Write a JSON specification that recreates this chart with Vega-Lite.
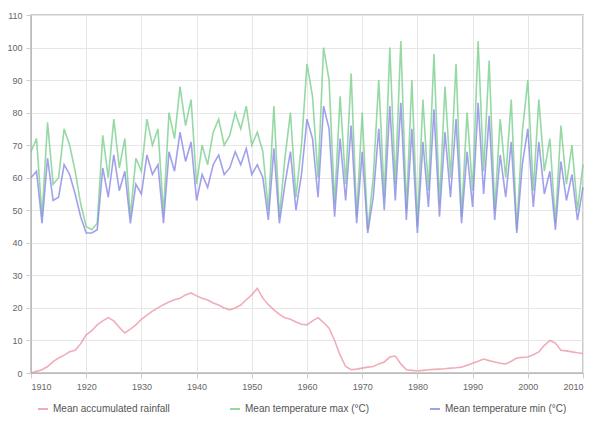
{
  "$schema": "https://vega.github.io/schema/vega-lite/v6.json",
  "autosize": {"type": "none"},
  "padding": {"left": 31, "top": 15, "right": 10, "bottom": 53},
  "width": 552,
  "height": 358,
  "background": "white",
  "config": {
    "view": {"stroke": "#bbbbbb", "strokeWidth": 1.5},
    "axis": {"gridColor": "#e6e6e6", "domainColor": "#bbbbbb", "tickColor": "#cccccc", "labelColor": "#666666", "labelFont": "Liberation Sans", "labelFontSize": 9, "title": null},
    "legend": {"labelFont": "Liberation Sans", "labelFontSize": 10, "labelColor": "#555555"}
  },
  "data": {"values": [
    {"year":1910,"tmax":68,"tmin":60,"acc":0},
    {"year":1911,"tmax":72,"tmin":62,"acc":0.5},
    {"year":1912,"tmax":48,"tmin":46,"acc":1},
    {"year":1913,"tmax":77,"tmin":66,"acc":2},
    {"year":1914,"tmax":58,"tmin":53,"acc":3.5},
    {"year":1915,"tmax":60,"tmin":54,"acc":4.6},
    {"year":1916,"tmax":75,"tmin":64,"acc":5.5},
    {"year":1917,"tmax":70,"tmin":61,"acc":6.5},
    {"year":1918,"tmax":62,"tmin":55,"acc":7},
    {"year":1919,"tmax":52,"tmin":48,"acc":9},
    {"year":1920,"tmax":45,"tmin":43,"acc":11.7},
    {"year":1921,"tmax":44,"tmin":43,"acc":13},
    {"year":1922,"tmax":46,"tmin":44,"acc":14.8},
    {"year":1923,"tmax":73,"tmin":63,"acc":16},
    {"year":1924,"tmax":60,"tmin":54,"acc":17},
    {"year":1925,"tmax":78,"tmin":67,"acc":16},
    {"year":1926,"tmax":63,"tmin":56,"acc":14},
    {"year":1927,"tmax":72,"tmin":62,"acc":12.3},
    {"year":1928,"tmax":48,"tmin":46,"acc":13.5},
    {"year":1929,"tmax":66,"tmin":58,"acc":14.8},
    {"year":1930,"tmax":62,"tmin":55,"acc":16.5},
    {"year":1931,"tmax":78,"tmin":67,"acc":17.8},
    {"year":1932,"tmax":70,"tmin":61,"acc":19},
    {"year":1933,"tmax":75,"tmin":64,"acc":20},
    {"year":1934,"tmax":49,"tmin":46,"acc":21},
    {"year":1935,"tmax":80,"tmin":68,"acc":21.8},
    {"year":1936,"tmax":72,"tmin":62,"acc":22.5},
    {"year":1937,"tmax":88,"tmin":74,"acc":23},
    {"year":1938,"tmax":76,"tmin":65,"acc":24},
    {"year":1939,"tmax":84,"tmin":71,"acc":24.6},
    {"year":1940,"tmax":58,"tmin":53,"acc":23.7},
    {"year":1941,"tmax":70,"tmin":61,"acc":23},
    {"year":1942,"tmax":64,"tmin":57,"acc":22.4},
    {"year":1943,"tmax":74,"tmin":64,"acc":21.5},
    {"year":1944,"tmax":78,"tmin":67,"acc":20.9},
    {"year":1945,"tmax":70,"tmin":61,"acc":20},
    {"year":1946,"tmax":73,"tmin":63,"acc":19.4},
    {"year":1947,"tmax":80,"tmin":68,"acc":20},
    {"year":1948,"tmax":75,"tmin":64,"acc":20.9},
    {"year":1949,"tmax":82,"tmin":69,"acc":22.5},
    {"year":1950,"tmax":70,"tmin":61,"acc":24},
    {"year":1951,"tmax":74,"tmin":64,"acc":26},
    {"year":1952,"tmax":68,"tmin":60,"acc":23},
    {"year":1953,"tmax":50,"tmin":47,"acc":21},
    {"year":1954,"tmax":82,"tmin":69,"acc":19.4},
    {"year":1955,"tmax":48,"tmin":46,"acc":18},
    {"year":1956,"tmax":66,"tmin":58,"acc":17},
    {"year":1957,"tmax":80,"tmin":68,"acc":16.5},
    {"year":1958,"tmax":54,"tmin":50,"acc":15.7},
    {"year":1959,"tmax":70,"tmin":61,"acc":15},
    {"year":1960,"tmax":95,"tmin":78,"acc":14.8},
    {"year":1961,"tmax":85,"tmin":72,"acc":16},
    {"year":1962,"tmax":60,"tmin":54,"acc":17},
    {"year":1963,"tmax":100,"tmin":82,"acc":15.5},
    {"year":1964,"tmax":90,"tmin":75,"acc":13.8},
    {"year":1965,"tmax":52,"tmin":48,"acc":10},
    {"year":1966,"tmax":85,"tmin":72,"acc":5.5},
    {"year":1967,"tmax":58,"tmin":53,"acc":2},
    {"year":1968,"tmax":92,"tmin":76,"acc":1},
    {"year":1969,"tmax":48,"tmin":46,"acc":1.2},
    {"year":1970,"tmax":80,"tmin":68,"acc":1.5},
    {"year":1971,"tmax":44,"tmin":43,"acc":1.8},
    {"year":1972,"tmax":60,"tmin":54,"acc":2},
    {"year":1973,"tmax":90,"tmin":75,"acc":2.8},
    {"year":1974,"tmax":54,"tmin":50,"acc":3.4},
    {"year":1975,"tmax":100,"tmin":82,"acc":4.9},
    {"year":1976,"tmax":58,"tmin":53,"acc":5.2},
    {"year":1977,"tmax":102,"tmin":83,"acc":2.8},
    {"year":1978,"tmax":50,"tmin":47,"acc":1},
    {"year":1979,"tmax":90,"tmin":75,"acc":0.8},
    {"year":1980,"tmax":45,"tmin":43,"acc":0.6},
    {"year":1981,"tmax":84,"tmin":71,"acc":0.8},
    {"year":1982,"tmax":56,"tmin":51,"acc":1},
    {"year":1983,"tmax":98,"tmin":81,"acc":1.1},
    {"year":1984,"tmax":52,"tmin":48,"acc":1.2},
    {"year":1985,"tmax":88,"tmin":74,"acc":1.3},
    {"year":1986,"tmax":60,"tmin":54,"acc":1.5},
    {"year":1987,"tmax":95,"tmin":78,"acc":1.6},
    {"year":1988,"tmax":48,"tmin":46,"acc":1.8},
    {"year":1989,"tmax":80,"tmin":68,"acc":2.4},
    {"year":1990,"tmax":56,"tmin":51,"acc":3},
    {"year":1991,"tmax":102,"tmin":83,"acc":3.6},
    {"year":1992,"tmax":62,"tmin":55,"acc":4.3},
    {"year":1993,"tmax":96,"tmin":79,"acc":3.8},
    {"year":1994,"tmax":50,"tmin":47,"acc":3.4},
    {"year":1995,"tmax":78,"tmin":67,"acc":3},
    {"year":1996,"tmax":60,"tmin":54,"acc":2.8},
    {"year":1997,"tmax":84,"tmin":71,"acc":3.6},
    {"year":1998,"tmax":44,"tmin":43,"acc":4.6},
    {"year":1999,"tmax":74,"tmin":64,"acc":4.8},
    {"year":2000,"tmax":90,"tmin":75,"acc":4.9},
    {"year":2001,"tmax":56,"tmin":51,"acc":5.6},
    {"year":2002,"tmax":84,"tmin":71,"acc":6.5},
    {"year":2003,"tmax":62,"tmin":55,"acc":8.5},
    {"year":2004,"tmax":72,"tmin":62,"acc":10},
    {"year":2005,"tmax":46,"tmin":44,"acc":9.2},
    {"year":2006,"tmax":76,"tmin":65,"acc":7},
    {"year":2007,"tmax":58,"tmin":53,"acc":6.8},
    {"year":2008,"tmax":70,"tmin":61,"acc":6.5},
    {"year":2009,"tmax":50,"tmin":47,"acc":6.2},
    {"year":2010,"tmax":64,"tmin":57,"acc":6}
  ]},
  "transform": [
    {"fold": ["acc", "tmax", "tmin"], "as": ["key", "value"]},
    {"lookup": "key", "from": {"data": {"values": [
      {"key": "acc", "label": "Mean accumulated rainfall"},
      {"key": "tmax", "label": "Mean temperature max (°C)"},
      {"key": "tmin", "label": "Mean temperature min (°C)"}
    ]}, "key": "key", "fields": ["label"]}}
  ],
  "mark": {"type": "line", "strokeWidth": 1.6, "opacity": 0.8},
  "encoding": {
    "x": {"field": "year", "type": "quantitative", "scale": {"domain": [1910, 2010], "nice": false, "zero": false},
      "axis": {"values": [1910,1920,1930,1940,1950,1960,1970,1980,1990,2000,2010], "format": "d", "labelPadding": 4}},
    "y": {"field": "value", "type": "quantitative", "scale": {"domain": [0, 110], "nice": false},
      "axis": {"values": [0,10,20,30,40,50,60,70,80,90,100,110], "labelPadding": 4}},
    "color": {"field": "label", "type": "nominal",
      "scale": {"domain": ["Mean accumulated rainfall", "Mean temperature max (°C)", "Mean temperature min (°C)"], "range": ["#ec98a6", "#7ccf8e", "#8a8ae6"]},
      "legend": {"orient": "none", "legendX": 6, "legendY": 388, "direction": "horizontal", "title": null, "symbolType": "stroke", "symbolStrokeWidth": 2, "columnPadding": 56, "labelLimit": 200}},
    "order": {"field": "year", "type": "quantitative"}
  }
}
